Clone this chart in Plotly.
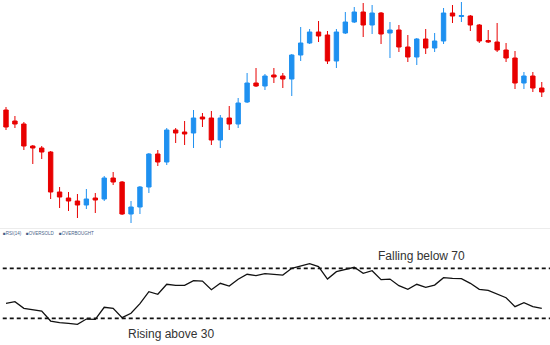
import plotly.graph_objects as go

# ---- data ----
periods = list(range(61))
open_ = [120, 109, 106, 84, 82, 78, 38, 32, 29, 25, 32, 31, 52, 48, 16, 23, 43, 76, 68, 100,
         98, 97, 113, 112, 90, 112, 106, 128, 147, 144, 155, 154, 151, 175, 187, 198, 195, 169, 197, 208,
         218, 205, 217, 197, 200, 183, 173, 191, 182, 189, 217, 213.5, 214, 205, 189.5, 188, 180, 172, 147, 154,
         142]
high = [123, 114, 108, 85, 84, 79, 43, 38, 36, 41, 37, 54, 58, 49, 29, 44, 77, 80, 102, 102,
        109, 120, 117, 119, 115, 124, 132, 157, 162, 156, 162, 157, 176, 203, 201, 209, 199, 201, 218, 223,
        227, 225, 218, 208, 205, 195, 192, 201, 197, 222, 225, 228, 215, 206, 200, 207, 187, 179, 158, 158,
        148]
low = [100, 102, 80, 66, 71, 31, 22, 19, 12, 21, 17, 29, 45, 15, 7, 16, 37, 64, 65, 87,
       85, 82, 103, 85, 82, 100, 102, 127, 143, 140, 147, 142, 134, 169, 186, 188, 166, 162, 196, 207,
       193, 196, 186, 172, 178, 168, 165, 176, 178, 186, 207, 208, 199, 187, 187, 178, 168, 141, 141, 138,
       133]
close = [103, 106, 84, 82, 78, 38, 33, 29, 25, 31, 30, 52, 48, 16, 23, 43, 76, 68, 100, 97,
         96, 112, 111, 90, 112, 106, 127, 147, 144, 154, 153, 151, 175, 187, 198, 194, 169, 198, 208, 218,
         205, 217, 196, 200, 183, 173, 191, 182, 189, 217, 214, 214.5, 205, 189, 188, 180, 172, 147, 154, 142,
         138]
rsi = [42.0, 43.3, 38.0, 37.2, 35.8, 27.8, 26.5, 26.0, 25.2, 29.4, 29.2, 38.8, 38.0, 30.5, 34.0,
       41.7, 51.3, 49.2, 57.2, 56.4, 56.4, 60.1, 59.8, 52.9, 58.0, 55.8, 61.2, 65.2, 64.1, 65.7,
       65.4, 64.6, 70.0, 71.8, 73.7, 71.3, 61.4, 67.3, 69.2, 70.8, 66.0, 68.1, 60.9, 61.4, 56.1,
       53.2, 57.2, 54.8, 56.6, 62.5, 62.0, 61.7, 58.0, 53.2, 52.4, 49.7, 46.5, 39.3, 42.5, 39.3,
       38.0]
overbought = 70
oversold = 30
legend_items = ["RSI(14)", "OVERSOLD", "OVERBOUGHT"]

RED = "#e80000"
BLUE = "#1e90f0"

fig = go.Figure()
fig.add_trace(go.Candlestick(
    x=periods, open=open_, high=high, low=low, close=close,
    increasing=dict(fillcolor=BLUE, line=dict(color=BLUE, width=1)),
    decreasing=dict(fillcolor=RED, line=dict(color=RED, width=1)),
    xaxis="x", yaxis="y", showlegend=False, hoverinfo="skip",
))
fig.add_trace(go.Scatter(
    x=periods, y=rsi, mode="lines", line=dict(color="#111111", width=1.3),
    xaxis="x2", yaxis="y2", showlegend=False, hoverinfo="skip",
))

H = 345.0
xr = [-0.672, 60.92]
fig.update_layout(
    width=550, height=345,
    margin=dict(l=0, r=0, t=0, b=0),
    paper_bgcolor="white", plot_bgcolor="white",
    showlegend=False,
    xaxis=dict(domain=[0, 1], range=xr, visible=False, rangeslider=dict(visible=False), anchor="y"),
    yaxis=dict(domain=[1 - 228 / H, 1], range=[2, 230], visible=False),
    xaxis2=dict(domain=[0, 1], range=xr, visible=False, anchor="y2"),
    yaxis2=dict(domain=[0, (H - 240) / H], range=[8.64, 92.64], visible=False),
    shapes=[
        dict(type="line", xref="paper", yref="y2", x0=0.005, x1=1, y0=overbought, y1=overbought,
             line=dict(color="#111111", width=1.8, dash="4px,3px")),
        dict(type="line", xref="paper", yref="y2", x0=0.005, x1=1, y0=oversold, y1=oversold,
             line=dict(color="#111111", width=1.8, dash="4px,3px")),
        dict(type="line", xref="paper", yref="paper", x0=0, x1=1, y0=1 - 228.5 / H, y1=1 - 228.5 / H,
             line=dict(color="#ececec", width=1)),
    ],
)

ann = [
    dict(text="Falling below 70", x=422 / 550, y=1 - 256 / H),
    dict(text="Rising above 30", x=171 / 550, y=1 - 334 / H),
]
for a in ann:
    fig.add_annotation(text=a["text"], xref="paper", yref="paper", x=a["x"], y=a["y"],
                       xanchor="center", yanchor="middle", showarrow=False,
                       font=dict(family="Liberation Sans, Arial", size=12, color="#333333"))

leg_x = [1, 24, 57]
for txt, lx in zip(legend_items, leg_x):
    fig.add_annotation(text="■" + txt, xref="paper", yref="paper", x=lx / 550, y=1 - 233 / H,
                       xanchor="left", yanchor="middle", showarrow=False,
                       font=dict(family="Liberation Sans, Arial", size=4.5, color="#4a5f8a"))

fig.write_html("out.html")
